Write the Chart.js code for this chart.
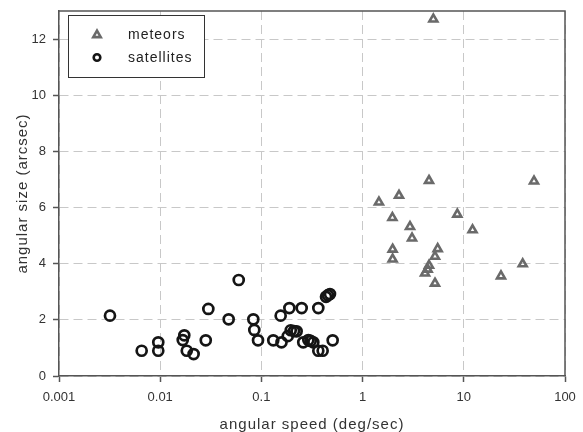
<!DOCTYPE html>
<html>
<head>
<meta charset="utf-8">
<script src="https://cdn.jsdelivr.net/npm/chart.js@4.4.0/dist/chart.umd.min.js"></script>
<style>
  html, body { margin: 0; background: #fff; }
</style>
</head>
<body>
<canvas id="chart" width="583" height="432"></canvas>
<script>
const meteorSpeed = [4.53, 2.29, 1.45, 1.97, 8.63, 2.94, 3.08, 12.2, 1.98, 1.98, 5.52, 5.19, 4.53, 4.39, 4.14, 5.19, 49.4, 38.2, 23.3, 5.0];
const meteorSize = [6.96, 6.43, 6.19, 5.64, 5.76, 5.32, 4.91, 5.20, 4.51, 4.16, 4.53, 4.26, 3.94, 3.80, 3.66, 3.30, 6.94, 3.99, 3.56, 12.71];

const satSpeed = [0.00319, 0.00656, 0.00957, 0.00957, 0.0167, 0.0173, 0.0183, 0.0214, 0.0282, 0.0299, 0.0475, 0.0597,
  0.0832, 0.0851, 0.0926, 0.131, 0.155, 0.158, 0.182, 0.189, 0.195, 0.210, 0.223, 0.250, 0.259, 0.291, 0.307,
  0.326, 0.365, 0.365, 0.403, 0.435, 0.455, 0.476, 0.506];
const satSize = [2.15, 0.90, 1.20, 0.90, 1.28, 1.45, 0.90, 0.78, 1.27, 2.39, 2.02, 3.42,
  2.02, 1.64, 1.27, 1.27, 2.15, 1.20, 1.42, 2.42, 1.63, 1.60, 1.59, 2.42, 1.20, 1.28, 1.25,
  1.20, 0.90, 2.42, 0.90, 2.82, 2.88, 2.92, 1.27];

const xTicks = [0.001, 0.01, 0.1, 1, 10, 100];
const yTicks = [0, 2, 4, 6, 8, 10, 12];

const toPoints = (xs, ys) => xs.map((x, i) => ({ x: x, y: ys[i] }));

Chart.defaults.font.family = '"Liberation Sans", Arial, sans-serif';

// box round the plot, the legend in its frame, spaced axis titles
const framePlugin = {
  id: "frame",
  beforeDraw(chart) {
    Object.values(chart.scales).forEach((scale) => {
      if (scale.spacedTitle) return;
      const drawTitle = scale.drawTitle;
      scale.drawTitle = function () {
        this.ctx.save();
        this.ctx.letterSpacing = "1px";
        drawTitle.call(this);
        this.ctx.restore();
      };
      scale.spacedTitle = true;
    });
  },
  afterDraw(chart) {
    const { ctx, chartArea: a } = chart;
    ctx.save();
    ctx.strokeStyle = "#555";
    ctx.lineWidth = 1.5;
    ctx.beginPath();
    ctx.moveTo(a.left, a.top);
    ctx.lineTo(a.right, a.top);
    ctx.lineTo(a.right, a.bottom);
    ctx.stroke();

    ctx.fillStyle = "#fff";
    ctx.fillRect(68.5, 15.5, 136, 62);
    ctx.strokeStyle = "#333";
    ctx.lineWidth = 1;
    ctx.strokeRect(68.5, 15.5, 136, 62);

    chart.data.datasets.forEach((ds, i) => {
      const y = i === 0 ? 35 : 57.5;
      ctx.fillStyle = "rgba(0,0,0,0)";
      ctx.strokeStyle = ds.borderColor;
      ctx.lineWidth = 2.6;
      Chart.helpers.drawPoint(ctx, { pointStyle: ds.pointStyle, radius: i === 0 ? 4.3 : 3.3, borderWidth: 2.6, rotation: 0 }, 97, y);
      ctx.fillStyle = "#222";
      ctx.font = '14px "Liberation Sans", Arial, sans-serif';
      ctx.letterSpacing = "1px";
      ctx.textBaseline = "middle";
      ctx.textAlign = "left";
      ctx.fillText(ds.label, 128, i === 0 ? 35 : 58);
    });
    ctx.restore();
  }
};

const myChart = new Chart(document.getElementById("chart"), {
  type: "scatter",
  data: {
    datasets: [
      {
        label: "meteors",
        data: toPoints(meteorSpeed, meteorSize),
        pointStyle: "triangle",
        pointRadius: 4.6,
        borderWidth: 2.6,
        borderColor: "#6a6a6a",
        backgroundColor: "rgba(0,0,0,0)",
      },
      {
        label: "satellites",
        data: toPoints(satSpeed, satSize),
        pointStyle: "circle",
        pointRadius: 5,
        borderWidth: 2.7,
        borderColor: "#151515",
        backgroundColor: "rgba(0,0,0,0)",
      },
    ],
  },
  options: {
    responsive: false,
    animation: false,
    layout: { padding: { top: 11, right: 18, left: 0, bottom: 0 } },
    plugins: { legend: { display: false }, tooltip: { enabled: false } },
    scales: {
      x: {
        type: "logarithmic",
        min: 0.001,
        max: 100,
        afterBuildTicks: (s) => { s.ticks = xTicks.map((v) => ({ value: v })); },
        afterFit: (s) => { s.height = 56; s.paddingLeft = 0; s.paddingRight = 0; },
        ticks: { callback: (v) => v.toString(), color: "#333", font: { size: 13 }, padding: 8, maxRotation: 0, autoSkip: false },
        grid: { color: "#c8c8c8", lineWidth: 1, tickLength: 6, tickColor: "#555", tickWidth: 1.5, tickBorderDash: [] },
        border: { color: "#555", width: 1.5, dash: [9, 5] },
        title: { display: true, text: "angular speed (deg/sec)", color: "#333", font: { size: 15, lineHeight: 1 }, padding: { top: 0, bottom: 0 } },
      },
      y: {
        min: 0,
        max: 13,
        afterBuildTicks: (s) => { s.ticks = yTicks.map((v) => ({ value: v })); },
        afterFit: (s) => { s.width = 59; s.paddingTop = 0; s.paddingBottom = 0; },
        ticks: { color: "#333", font: { size: 13 }, padding: 7 },
        grid: { color: "#c8c8c8", lineWidth: 1, tickLength: 6, tickColor: "#555", tickWidth: 1.5, tickBorderDash: [] },
        border: { color: "#555", width: 1.5, dash: [9, 5] },
        title: { display: true, text: "angular size (arcsec)", color: "#333", font: { size: 15, lineHeight: 1 }, padding: { top: 15, bottom: 0 } },
      },
    },
  },
  plugins: [framePlugin],
});
</script>
</body>
</html>
